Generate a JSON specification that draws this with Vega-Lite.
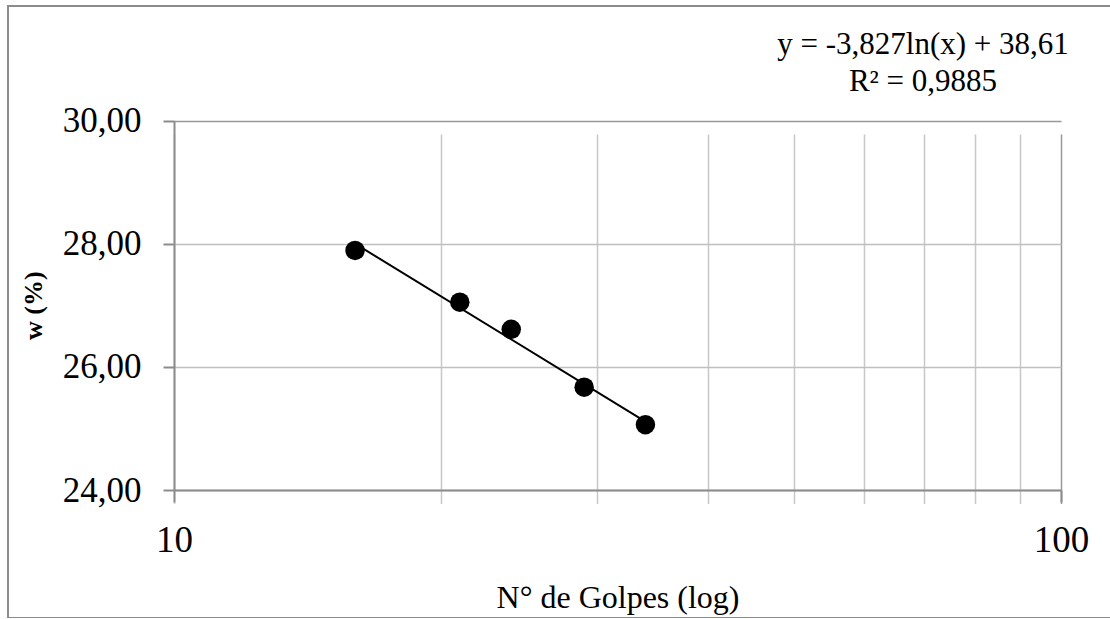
{
  "$schema": "https://vega.github.io/schema/vega-lite/v6.json",
  "width": 1120,
  "height": 612,
  "autosize": {"type": "none"},
  "padding": {"left": 8, "top": 6, "right": 0, "bottom": 0},
  "background": "white",
  "datasets": {
    "puntos": [
      {"golpes": 16, "w": 27.89},
      {"golpes": 21, "w": 27.05},
      {"golpes": 24, "w": 26.61},
      {"golpes": 29, "w": 25.67},
      {"golpes": 34, "w": 25.06}
    ],
    "tendencia": [
      {"golpes": 16, "w": 28.0},
      {"golpes": 34, "w": 25.11}
    ]
  },
  "title": {
    "text": ["y = -3,827ln(x) + 38,61", "R² = 0,9885"],
    "anchor": "end",
    "align": "center",
    "frame": "group",
    "dx": -205,
    "offset": -92,
    "baseline": "top",
    "fontSize": 31,
    "lineHeight": 37,
    "font": "Liberation Serif",
    "fontWeight": "normal",
    "color": "black"
  },
  "encoding": {
    "x": {
      "field": "golpes",
      "type": "quantitative",
      "title": "N° de Golpes (log)",
      "scale": {"type": "log", "domain": [10, 100], "range": [166, 1053], "nice": false},
      "axis": {
        "values": [10, 20, 30, 40, 50, 60, 70, 80, 90, 100],
        "offset": -128,
        "grid": true,
        "gridColor": {"condition": {"test": "datum.value == 100", "value": "#999999"}, "value": "#c8c8c8"},
        "gridWidth": 1.5,
        "domainColor": "#8c8c8c",
        "domainWidth": 2,
        "tickColor": "#8c8c8c",
        "tickWidth": 2,
        "tickSize": 12,
        "tickOpacity": {"condition": {"test": "datum.value == 10 || datum.value == 100", "value": 1}, "value": 0},
        "format": "d",
        "labelExpr": "datum.value == 10 || datum.value == 100 ? datum.label : ''",
        "labelFont": "Liberation Serif",
        "labelFontSize": 37,
        "labelColor": "black",
        "labelPadding": 20,
        "labelFlush": false,
        "labelOverlap": false,
        "titleFont": "Liberation Serif",
        "titleFontSize": 32,
        "titleFontWeight": "normal",
        "titleColor": "black",
        "titlePadding": 24
      }
    },
    "y": {
      "field": "w",
      "type": "quantitative",
      "title": "w (%)",
      "scale": {"domain": [24, 30], "range": [484, 114.5], "nice": false, "zero": false},
      "axis": {
        "values": [24, 26, 28, 30],
        "offset": -166,
        "grid": true,
        "gridColor": {"condition": {"test": "datum.value == 30", "value": "#999999"}, "value": "#bfbfbf"},
        "gridWidth": 1.5,
        "domainColor": "#8c8c8c",
        "domainWidth": 2,
        "tickColor": "#8c8c8c",
        "tickWidth": 2,
        "tickSize": 11,
        "labelExpr": "replace(format(datum.value, '.2f'), '.', ',')",
        "labelFont": "Liberation Serif",
        "labelFontSize": 35,
        "labelColor": "black",
        "labelPadding": 22,
        "titleFont": "Liberation Serif",
        "titleFontSize": 26,
        "titleFontWeight": "bold",
        "titleColor": "black",
        "titlePadding": 16
      }
    }
  },
  "layer": [
    {"data": {"name": "tendencia"}, "mark": {"type": "line", "color": "black", "strokeWidth": 2}},
    {"data": {"name": "puntos"}, "mark": {"type": "circle", "color": "black", "opacity": 1, "size": 380}}
  ],
  "config": {
    "view": {"stroke": "#8c8c8c", "strokeWidth": 2},
    "font": "Liberation Serif"
  }
}
